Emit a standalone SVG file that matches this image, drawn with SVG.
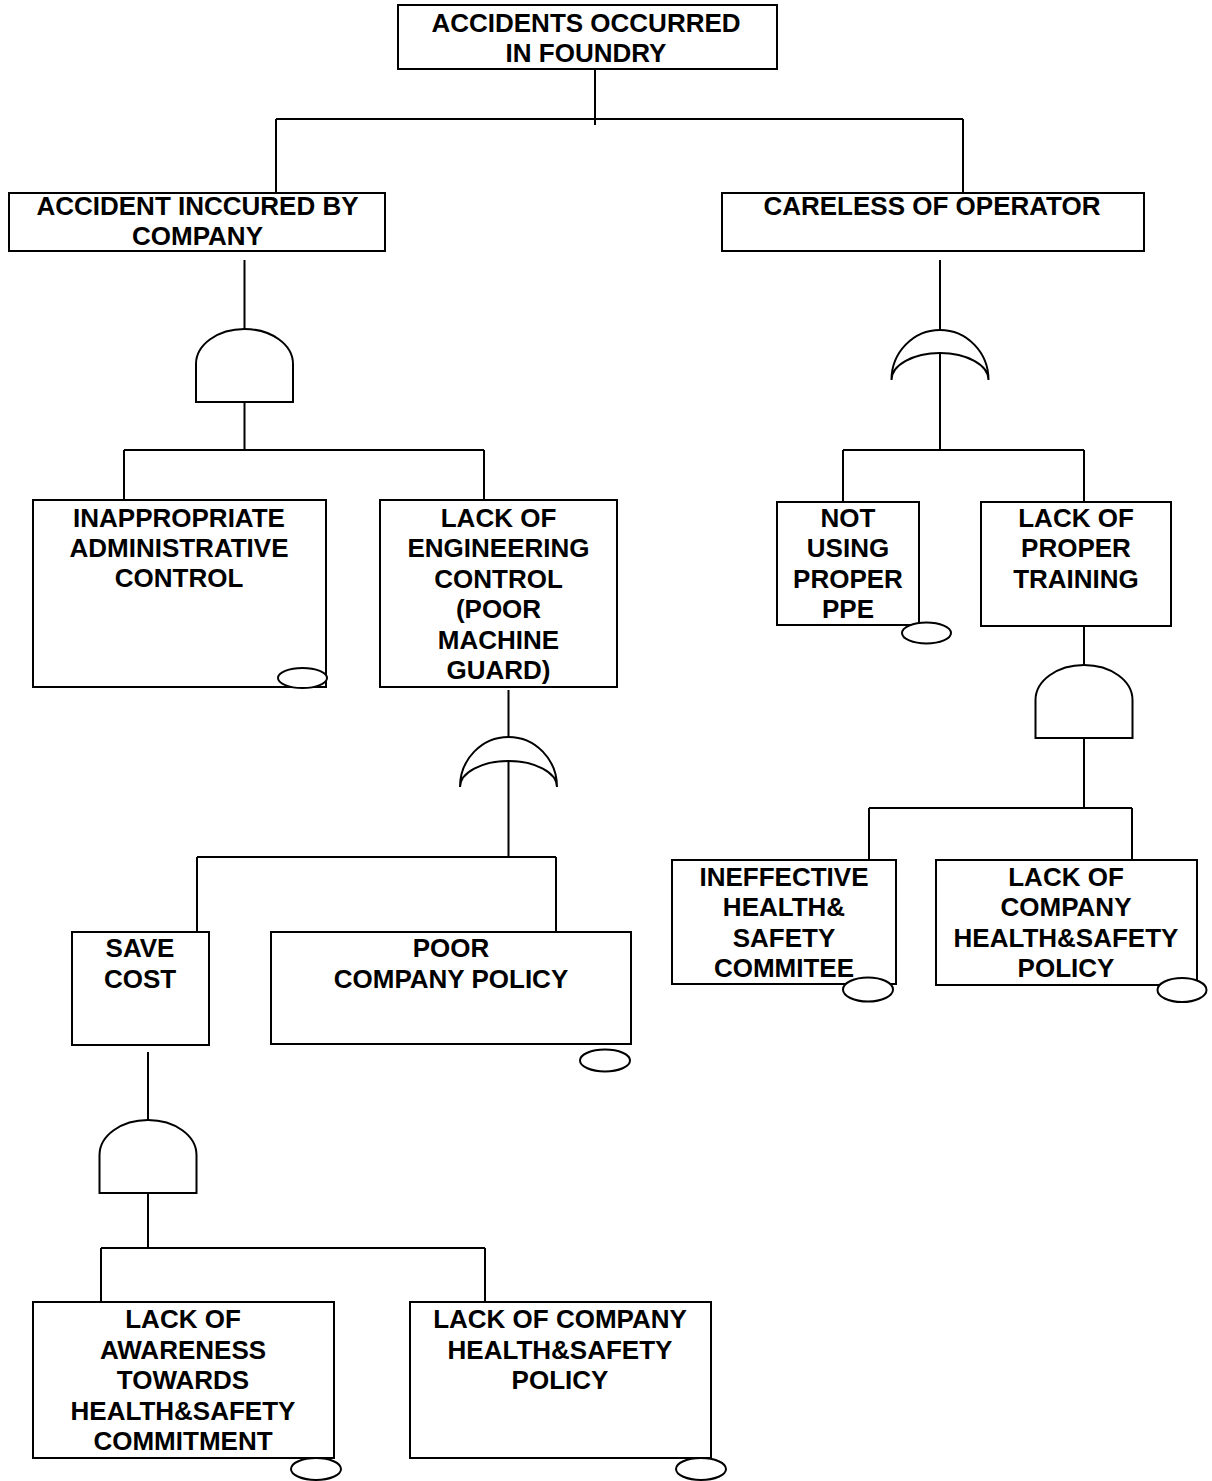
<svg xmlns="http://www.w3.org/2000/svg" width="1212" height="1481" viewBox="0 0 1212 1481">
  <style>
    .box { fill: #fff; stroke: #000; stroke-width: 2; }
    .gate { fill: #fff; stroke: #000; stroke-width: 2; stroke-linejoin: miter; }
    .tag { fill: #fff; stroke: #000; stroke-width: 2; }
    .wire { fill: none; stroke: #000; stroke-width: 2; }
    text { font-family: "Liberation Sans", Arial, sans-serif; font-weight: bold; font-size: 26px; text-anchor: middle; fill: #000; }
  </style>
  <rect width="1212" height="1481" fill="#fff"/>

  <!-- connectors -->
  <g id="connectors" class="wire">
    <path d="M595,69 V125 M276,119 H963 M276,119 V193 M963,119 V193"/>
    <path d="M244.5,260 V329 M244.5,402 V450 M124,450 H484 M124,450 V500 M484,450 V500"/>
    <path d="M508.5,690 V737 M508.5,761 V857 M197,857 H556 M197,857 V932 M556,857 V932"/>
    <path d="M148,1052 V1120 M148,1193 V1248 M101,1248 H485 M101,1248 V1302 M485,1248 V1302"/>
    <path d="M940,260 V330 M940,353 V450 M843,450 H1084 M843,450 V502 M1084,450 V502"/>
    <path d="M1084,626 V665 M1084,738 V808 M869,808 H1132 M869,808 V860 M1132,808 V860"/>
  </g>

  <!-- gates -->
  <g id="gate-and-company">
    <path class="gate" d="M196,402 V364 A48.5 35 0 0 1 293,364 V402 Z"/>
  </g>
  <g id="gate-or-operator">
    <path class="gate" d="M891.5,380 A48.5 50 0 0 1 988.5,380 A48.5 27 0 0 0 891.5,380 Z"/>
  </g>
  <g id="gate-or-engineering">
    <path class="gate" d="M460,787 A48.5 50 0 0 1 557,787 A48.5 26 0 0 0 460,787 Z"/>
  </g>
  <g id="gate-and-training">
    <path class="gate" d="M1035.5,738 V700 A48.5 35 0 0 1 1132.5,700 V738 Z"/>
  </g>
  <g id="gate-and-savecost">
    <path class="gate" d="M99.5,1193 V1155 A48.5 35 0 0 1 196.5,1155 V1193 Z"/>
  </g>

  <!-- events -->
  <g id="top-event">
    <rect class="box" x="398" y="5" width="379" height="64"/>
    <text x="586" y="32">ACCIDENTS OCCURRED</text>
    <text x="586" y="62">IN FOUNDRY</text>
  </g>

  <g id="accident-by-company">
    <rect class="box" x="9" y="193" width="376" height="58"/>
    <text x="197.5" y="215">ACCIDENT INCCURED BY</text>
    <text x="197.5" y="245">COMPANY</text>
  </g>

  <g id="careless-operator">
    <rect class="box" x="722" y="193" width="422" height="58"/>
    <text x="932" y="215">CARELESS OF OPERATOR</text>
  </g>

  <g id="admin-control">
    <rect class="box" x="33" y="500" width="293" height="187"/>
    <text x="179" y="527">INAPPROPRIATE</text>
    <text x="179" y="557">ADMINISTRATIVE</text>
    <text x="179" y="587">CONTROL</text>
    <ellipse class="tag" cx="302.5" cy="678" rx="24.5" ry="10"/>
  </g>

  <g id="engineering-control">
    <rect class="box" x="380" y="500" width="237" height="187"/>
    <text x="498.5" y="527">LACK OF</text>
    <text x="498.5" y="557">ENGINEERING</text>
    <text x="498.5" y="588">CONTROL</text>
    <text x="498.5" y="618">(POOR</text>
    <text x="498.5" y="649">MACHINE</text>
    <text x="498.5" y="679">GUARD)</text>
  </g>

  <g id="not-using-ppe">
    <rect class="box" x="777" y="502" width="142" height="123"/>
    <text x="848" y="527">NOT</text>
    <text x="848" y="557">USING</text>
    <text x="848" y="588">PROPER</text>
    <text x="848" y="618">PPE</text>
    <ellipse class="tag" cx="926.5" cy="633" rx="24.5" ry="10.5"/>
  </g>

  <g id="lack-training">
    <rect class="box" x="981" y="502" width="190" height="124"/>
    <text x="1076" y="527">LACK OF</text>
    <text x="1076" y="557">PROPER</text>
    <text x="1076" y="588">TRAINING</text>
  </g>

  <g id="ineffective-committee">
    <rect class="box" x="672" y="860" width="224" height="124"/>
    <text x="784" y="886">INEFFECTIVE</text>
    <text x="784" y="916">HEALTH&amp;</text>
    <text x="784" y="947">SAFETY</text>
    <text x="784" y="977">COMMITEE</text>
    <ellipse class="tag" cx="868" cy="989.5" rx="25" ry="12"/>
  </g>

  <g id="lack-policy-right">
    <rect class="box" x="936" y="860" width="261" height="125"/>
    <text x="1066" y="886">LACK OF</text>
    <text x="1066" y="916">COMPANY</text>
    <text x="1066" y="947">HEALTH&amp;SAFETY</text>
    <text x="1066" y="977">POLICY</text>
    <ellipse class="tag" cx="1182" cy="990" rx="24.5" ry="12"/>
  </g>

  <g id="save-cost">
    <rect class="box" x="72" y="932" width="137" height="113"/>
    <text x="140" y="957">SAVE</text>
    <text x="140" y="988">COST</text>
  </g>

  <g id="poor-policy">
    <rect class="box" x="271" y="932" width="360" height="112"/>
    <text x="451" y="957">POOR</text>
    <text x="451" y="988">COMPANY POLICY</text>
    <ellipse class="tag" cx="605" cy="1060.5" rx="25" ry="11"/>
  </g>

  <g id="lack-awareness">
    <rect class="box" x="33" y="1302" width="301" height="156"/>
    <text x="183" y="1328">LACK OF</text>
    <text x="183" y="1359">AWARENESS</text>
    <text x="183" y="1389">TOWARDS</text>
    <text x="183" y="1420">HEALTH&amp;SAFETY</text>
    <text x="183" y="1450">COMMITMENT</text>
    <ellipse class="tag" cx="316" cy="1469" rx="25" ry="11"/>
  </g>

  <g id="lack-policy-bottom">
    <rect class="box" x="410" y="1302" width="301" height="156"/>
    <text x="560" y="1328">LACK OF COMPANY</text>
    <text x="560" y="1359">HEALTH&amp;SAFETY</text>
    <text x="560" y="1389">POLICY</text>
    <ellipse class="tag" cx="701" cy="1469" rx="25" ry="11"/>
  </g>
</svg>
